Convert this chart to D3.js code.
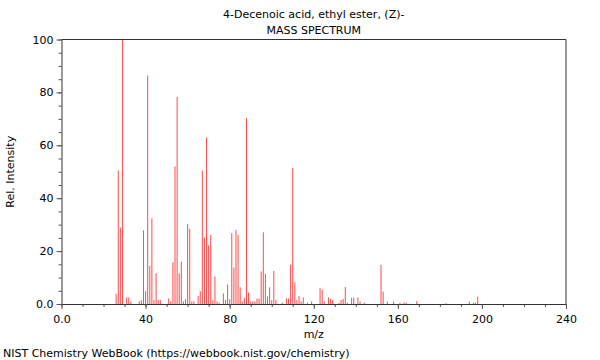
<!DOCTYPE html>
<html>
<head>
<meta charset="utf-8">
<script src="https://cdn.jsdelivr.net/npm/d3@7"></script>
<style>
  html, body { margin: 0; padding: 0; background: #fff; }
  svg { display: block; font-family: "DejaVu Sans", sans-serif; }
</style>
</head>
<body>
<svg id="chart" width="600" height="360"></svg>
<script>
const titleLines = ["4-Decenoic acid, ethyl ester, (Z)-", "MASS SPECTRUM"];
const xLabel = "m/z";
const yLabel = "Rel. Intensity";
const footer = "NIST Chemistry WebBook (https://webbook.nist.gov/chemistry)";

const mz = [26, 27, 28, 29, 31, 32, 33, 37, 38, 39, 40, 41, 42, 43, 44, 45, 46, 47,
  51, 52, 53, 54, 55, 56, 57, 58, 59, 60, 61, 62, 63, 65, 66, 67, 68, 69, 70, 71, 72,
  73, 74, 75, 77, 78, 79, 80, 81, 82, 83, 84, 85, 86, 87, 88, 89, 90, 91, 92, 93, 94,
  95, 96, 97, 98, 99, 100, 101, 102, 105, 107, 108, 109, 110, 111, 112, 113, 114, 115,
  117, 119, 123, 124, 125, 127, 128, 129, 132, 133, 134, 135, 136, 138, 139, 141, 142,
  144, 152, 153, 155, 158, 161, 163, 164, 169, 183, 194, 196, 197, 198];
const intensity = [3.8, 50.5, 28.9, 100, 2.5, 2.5, 0.9, 1, 1.5, 27.8, 4.9, 86.4, 14.4, 32.4, 1.5, 11.6, 1.5, 1.5,
  2.1, 1, 15.8, 52, 78.3, 11.6, 16, 1, 1.8, 30.2, 28.4, 1, 1, 3, 4.9, 50.4, 25.1, 63, 22.1, 26.1, 1.5,
  10.4, 1, 0.5, 4, 1.5, 7.4, 1.8, 26.8, 13.8, 28, 26.1, 6.3, 1, 2.4, 70.3, 4.3, 1, 1, 1, 2, 2.1,
  12.3, 27.1, 11.4, 2.8, 6.3, 1.5, 12.5, 1.5, 0.5, 2.1, 2.1, 14.8, 51.4, 8.2, 1.5, 3, 1, 2.5,
  0.5, 1, 6, 5.4, 1, 2.5, 1.9, 1.5, 0.5, 1.5, 1.9, 6.4, 0.5, 2.3, 2.3, 2.5, 1,
  0.5, 14.8, 4.7, 0.9, 0.9, 0.5, 0.5, 0.5, 1.1, 0.3, 0.9, 0.5, 0.5, 2.8];

const xMajorTicks = [0, 40, 80, 120, 160, 200, 240];
const xMinorTicks = d3.range(0, 241, 10);
const yMajorTicks = [0, 20, 40, 60, 80, 100];
const yMinorTicks = d3.range(0, 101, 5);

const svg = d3.select("#chart");
const mLeft = 61.5, mRight = 566, mTop = 39.5, mBottom = 304;

const x = d3.scaleLinear().domain([0, 240]).range([mLeft, mRight]);
const y = d3.scaleLinear().domain([0, 100]).range([mBottom, mTop]);

const fmt = d => d === 0 ? "0.0" : String(d);
const axisColor = "#333";

// bars
svg.append("g").selectAll("line").data(mz.map((m, i) => [m, intensity[i]]))
  .join("line")
  .attr("x1", d => x(d[0])).attr("x2", d => x(d[0]))
  .attr("y1", y(0)).attr("y2", d => y(d[1]))
  .attr("stroke", "#ff2a2a").attr("stroke-opacity", 0.85).attr("stroke-width", 1);

// frame top / right
svg.append("line").attr("x1", mLeft).attr("x2", mRight).attr("y1", mTop).attr("y2", mTop)
  .attr("stroke", axisColor).attr("stroke-width", 1);
svg.append("line").attr("x1", mRight).attr("x2", mRight).attr("y1", mTop).attr("y2", mBottom)
  .attr("stroke", axisColor).attr("stroke-width", 1);

// x axis
const gxMinor = svg.append("g").attr("transform", `translate(0,${mBottom})`)
  .call(d3.axisBottom(x).tickValues(xMinorTicks).tickSize(3).tickFormat(""));
const gx = svg.append("g").attr("transform", `translate(0,${mBottom})`)
  .call(d3.axisBottom(x).tickValues(xMajorTicks).tickSize(5).tickPadding(6).tickFormat(fmt));

// y axis
const gyMinor = svg.append("g").attr("transform", `translate(${mLeft},0)`)
  .call(d3.axisLeft(y).tickValues(yMinorTicks).tickSize(3).tickFormat(""));
const gy = svg.append("g").attr("transform", `translate(${mLeft},0)`)
  .call(d3.axisLeft(y).tickValues(yMajorTicks).tickSize(5).tickPadding(3).tickFormat(fmt));

[gx, gy, gxMinor, gyMinor].forEach(g => {
  g.selectAll("path.domain").attr("stroke", axisColor);
  g.selectAll(".tick line").attr("stroke", "#555");
  g.selectAll("text").attr("font-size", 11).attr("font-family", "DejaVu Sans, sans-serif").attr("fill", "#000");
});
gxMinor.select("path.domain").remove();
gyMinor.select("path.domain").remove();
gx.select("path.domain").attr("d", `M${mLeft},0.5H${mRight}`);
gy.select("path.domain").attr("d", `M0.5,${mBottom}V${mTop}`);

// titles
const cx = (mLeft + mRight) / 2;
svg.append("text").attr("x", cx).attr("y", 18).attr("text-anchor", "middle")
  .attr("font-size", 11).text(titleLines[0]);
svg.append("text").attr("x", cx).attr("y", 34).attr("text-anchor", "middle")
  .attr("font-size", 11).text(titleLines[1]);

svg.append("text").attr("x", cx).attr("y", 338).attr("text-anchor", "middle")
  .attr("font-size", 11).text(xLabel);

svg.append("text").attr("transform", `translate(14,${(mTop + mBottom) / 2}) rotate(-90)`)
  .attr("text-anchor", "middle").attr("font-size", 11).text(yLabel);

svg.append("text").attr("x", 3).attr("y", 357).attr("font-size", 11).text(footer);
</script>
</body>
</html>
